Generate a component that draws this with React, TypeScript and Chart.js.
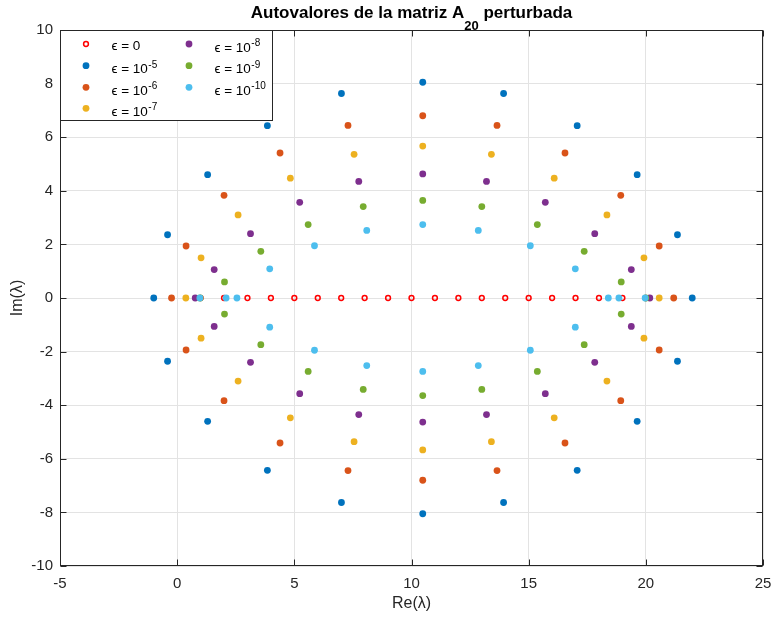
import React, { useEffect, useRef } from "react";
import { Chart, registerables } from "chart.js";

Chart.register(...registerables);

const FONT = "'Liberation Sans', Arial, Helvetica, sans-serif";

const xTicks = [-5, 0, 5, 10, 15, 20, 25];
const yTicks = [-10, -8, -6, -4, -2, 0, 2, 4, 6, 8, 10];

const epsExponents = ["0", "-5", "-6", "-7", "-8", "-9", "-10"];
const colors = ["#FF0000", "#0072BD", "#D95319", "#EDB120", "#7E2F8E", "#77AC30", "#4DBEEE"];

// eps = 0
const re0 = [1, 2, 3, 4, 5, 6, 7, 8, 9, 10, 11, 12, 13, 14, 15, 16, 17, 18, 19, 20];
const im0 = [0, 0, 0, 0, 0, 0, 0, 0, 0, 0, 0, 0, 0, 0, 0, 0, 0, 0, 0, 0];

// eps = 1e-5
const re5 = [-1.0, -0.41, -0.41, 1.3, 1.3, 3.85, 3.85, 7.01, 7.01, 10.48, 10.48, 13.93, 13.93, 17.07, 17.07, 19.63, 19.63, 21.35, 21.35, 21.98];
const im5 = [0, 2.36, -2.36, 4.6, -4.6, 6.43, -6.43, 7.63, -7.63, 8.05, -8.05, 7.63, -7.63, 6.43, -6.43, 4.6, -4.6, 2.36, -2.36, 0];

// eps = 1e-6
const re6 = [-0.24, 0.38, 0.38, 2.0, 2.0, 4.39, 4.39, 7.29, 7.29, 10.48, 10.48, 13.65, 13.65, 16.55, 16.55, 18.93, 18.93, 20.57, 20.57, 21.19];
const im6 = [0, 1.94, -1.94, 3.83, -3.83, 5.41, -5.41, 6.44, -6.44, 6.8, -6.8, 6.44, -6.44, 5.41, -5.41, 3.83, -3.83, 1.94, -1.94, 0];

// eps = 1e-7
const re7 = [0.37, 1.02, 1.02, 2.6, 2.6, 4.83, 4.83, 7.55, 7.55, 10.48, 10.48, 13.41, 13.41, 16.09, 16.09, 18.34, 18.34, 19.92, 19.92, 20.57];
const im7 = [0, 1.5, -1.5, 3.1, -3.1, 4.47, -4.47, 5.36, -5.36, 5.67, -5.67, 5.36, -5.36, 4.47, -4.47, 3.1, -3.1, 1.5, -1.5, 0];

// eps = 1e-8
const re8 = [0.77, 1.58, 1.58, 3.13, 3.13, 5.23, 5.23, 7.75, 7.75, 10.48, 10.48, 13.2, 13.2, 15.71, 15.71, 17.82, 17.82, 19.38, 19.38, 20.17];
const im8 = [0, 1.06, -1.06, 2.4, -2.4, 3.57, -3.57, 4.35, -4.35, 4.63, -4.63, 4.35, -4.35, 3.57, -3.57, 2.4, -2.4, 1.06, -1.06, 0];

// eps = 1e-9
const re9 = [0.98, 2.02, 2.02, 3.57, 3.57, 5.59, 5.59, 7.94, 7.94, 10.48, 10.48, 13.0, 13.0, 15.37, 15.37, 17.37, 17.37, 18.95, 18.95, 20.0];
const im9 = [0, 0.6, -0.6, 1.74, -1.74, 2.74, -2.74, 3.41, -3.41, 3.64, -3.64, 3.41, -3.41, 2.74, -2.74, 1.74, -1.74, 0.6, -0.6, 0];

// eps = 1e-10
const re10 = [0.97, 2.09, 2.55, 3.95, 3.95, 5.86, 5.86, 8.09, 8.09, 10.48, 10.48, 12.85, 12.85, 15.07, 15.07, 16.99, 16.99, 18.4, 18.85, 19.97];
const im10 = [0, 0, 0, 1.09, -1.09, 1.95, -1.95, 2.52, -2.52, 2.74, -2.74, 2.52, -2.52, 1.95, -1.95, 1.09, -1.09, 0, 0, 0];

const seriesRe = [re0, re5, re6, re7, re8, re9, re10];
const seriesIm = [im0, im5, im6, im7, im8, im9, im10];

const AXIS = "#262626";

function drawMarker(ctx: CanvasRenderingContext2D, i: number, cx: number, cy: number) {
  ctx.beginPath();
  if (i === 0) {
    ctx.arc(cx, cy, 2.4, 0, Math.PI * 2);
    ctx.strokeStyle = colors[0];
    ctx.lineWidth = 1.5;
    ctx.stroke();
  } else {
    ctx.arc(cx, cy, 3.4, 0, Math.PI * 2);
    ctx.fillStyle = colors[i];
    ctx.fill();
  }
}

const deco = {
  id: "deco",
  afterDraw(chart: any) {
    const { ctx, chartArea: a, scales } = chart;
    const x = scales.x;
    const y = scales.y;
    const L = Math.round(a.left) + 0.5;
    const R = Math.round(a.right) - 0.5;
    const T = Math.round(a.top) + 0.5;
    const B = Math.round(a.bottom) - 0.5;
    ctx.save();
    ctx.strokeStyle = AXIS;
    ctx.lineWidth = 1;
    ctx.beginPath();
    xTicks.forEach((v) => {
      const px = Math.round(x.getPixelForValue(v)) + 0.5;
      ctx.moveTo(px, B);
      ctx.lineTo(px, B - 6);
      ctx.moveTo(px, T);
      ctx.lineTo(px, T + 6);
    });
    yTicks.forEach((v) => {
      const py = Math.round(y.getPixelForValue(v)) + 0.5;
      ctx.moveTo(L, py);
      ctx.lineTo(L + 6, py);
      ctx.moveTo(R, py);
      ctx.lineTo(R - 6, py);
    });
    ctx.stroke();
    ctx.strokeRect(L, T, R - L, B - T);

    // legend
    const lx = L, ly = T, lw = 212, lh = 90;
    ctx.fillStyle = "#ffffff";
    ctx.fillRect(lx, ly, lw, lh);
    ctx.strokeStyle = AXIS;
    ctx.strokeRect(lx, ly, lw, lh);
    const colX = [lx + 25.5, lx + 128.5];
    const textX = [lx + 51, lx + 154];
    const rowY = [ly + 13.5, ly + 35.2, ly + 56.8, ly + 77.8];
    const order = [0, 1, 2, 3, 4, 5, 6];
    order.forEach((i, k) => {
      const col = k < 4 ? 0 : 1;
      const row = k < 4 ? k : k - 4;
      const mx = colX[col];
      const my = rowY[row];
      drawMarker(ctx, i, mx, my);
      ctx.fillStyle = "#000000";
      ctx.textAlign = "left";
      ctx.textBaseline = "alphabetic";
      ctx.font = `13.5px ${FONT}`;
      const exp = epsExponents[i];
      if (exp === "0") {
        ctx.fillText("\u03F5 = 0", textX[col], my + 6);
      } else {
        const base = "\u03F5 = 10";
        const bl = my + 7.7;
        ctx.fillText(base, textX[col], bl);
        const w = ctx.measureText(base).width;
        ctx.font = `10px ${FONT}`;
        ctx.fillText(exp, textX[col] + w + 0.5, bl - 5.8);
      }
    });

    // title
    const cx = (a.left + a.right) / 2;
    const t1 = "Autovalores de la matriz A";
    const sub = "20";
    const t2 = " perturbada";
    ctx.font = `bold 17px ${FONT}`;
    const w1 = ctx.measureText(t1).width;
    const w3 = ctx.measureText(t2).width;
    ctx.font = `bold 13px ${FONT}`;
    const w2 = ctx.measureText(sub).width;
    let sx = cx - (w1 + w2 + w3) / 2;
    ctx.fillStyle = "#000000";
    ctx.font = `bold 17px ${FONT}`;
    ctx.fillText(t1, sx, 18);
    sx += w1;
    ctx.font = `bold 13px ${FONT}`;
    ctx.fillText(sub, sx, 30);
    sx += w2;
    ctx.font = `bold 17px ${FONT}`;
    ctx.fillText(t2, sx, 18);

    // axis titles
    ctx.fillStyle = AXIS;
    ctx.font = `16px ${FONT}`;
    ctx.textAlign = "center";
    ctx.textBaseline = "middle";
    ctx.fillText("Re(\u03BB)", cx, 604);
    ctx.save();
    ctx.translate(18, (a.top + a.bottom) / 2);
    ctx.rotate(-Math.PI / 2);
    ctx.fillText("Im(\u03BB)", 0, 0);
    ctx.restore();
    ctx.restore();
  },
};

export default function App() {
  const ref = useRef<HTMLCanvasElement | null>(null);
  useEffect(() => {
    document.body.style.margin = "0";
    const canvas = ref.current;
    if (!canvas) return;
    const datasets = seriesRe.map((re, i) => ({
      label: "eps " + epsExponents[i],
      data: re.map((v, j) => ({ x: v, y: seriesIm[i][j] })),
      showLine: false,
      pointStyle: "circle",
      pointRadius: i === 0 ? 2.4 : 3.4,
      pointHoverRadius: i === 0 ? 2.4 : 3.4,
      pointBorderWidth: i === 0 ? 1.5 : 0,
      pointBackgroundColor: i === 0 ? "rgba(0,0,0,0)" : colors[i],
      pointBorderColor: colors[i],
      order: 6 - i,
    }));
    const chart = new Chart(canvas, {
      type: "scatter",
      data: { datasets },
      plugins: [deco],
      options: {
        animation: false,
        responsive: false,
        maintainAspectRatio: false,
        events: [],
        layout: { padding: { left: 0, right: 8, top: 30, bottom: 0 } },
        plugins: { legend: { display: false }, tooltip: { enabled: false }, title: { display: false } },
        scales: {
          x: {
            type: "linear",
            min: -5,
            max: 25,
            afterBuildTicks: (s: any) => {
              s.ticks = xTicks.map((v) => ({ value: v }));
            },
            afterFit: (s: any) => {
              s.height = 53;
              s.paddingLeft = 0;
              s.paddingRight = 0;
            },
            grid: { color: "#e3e3e3", lineWidth: 1, drawTicks: false },
            border: { display: false },
            ticks: { color: AXIS, font: { family: FONT, size: 15 }, padding: 9, maxRotation: 0 },
          },
          y: {
            type: "linear",
            min: -10,
            max: 10,
            afterBuildTicks: (s: any) => {
              s.ticks = yTicks.map((v) => ({ value: v }));
            },
            afterFit: (s: any) => {
              s.width = 60;
              s.paddingTop = 0;
              s.paddingBottom = 0;
            },
            grid: { color: "#e3e3e3", lineWidth: 1, drawTicks: false },
            border: { display: false },
            ticks: { color: AXIS, font: { family: FONT, size: 15 }, padding: 7 },
          },
        },
      },
    });
    return () => chart.destroy();
  }, []);
  return <canvas ref={ref} width={771} height={619} style={{ display: "block" }} />;
}
